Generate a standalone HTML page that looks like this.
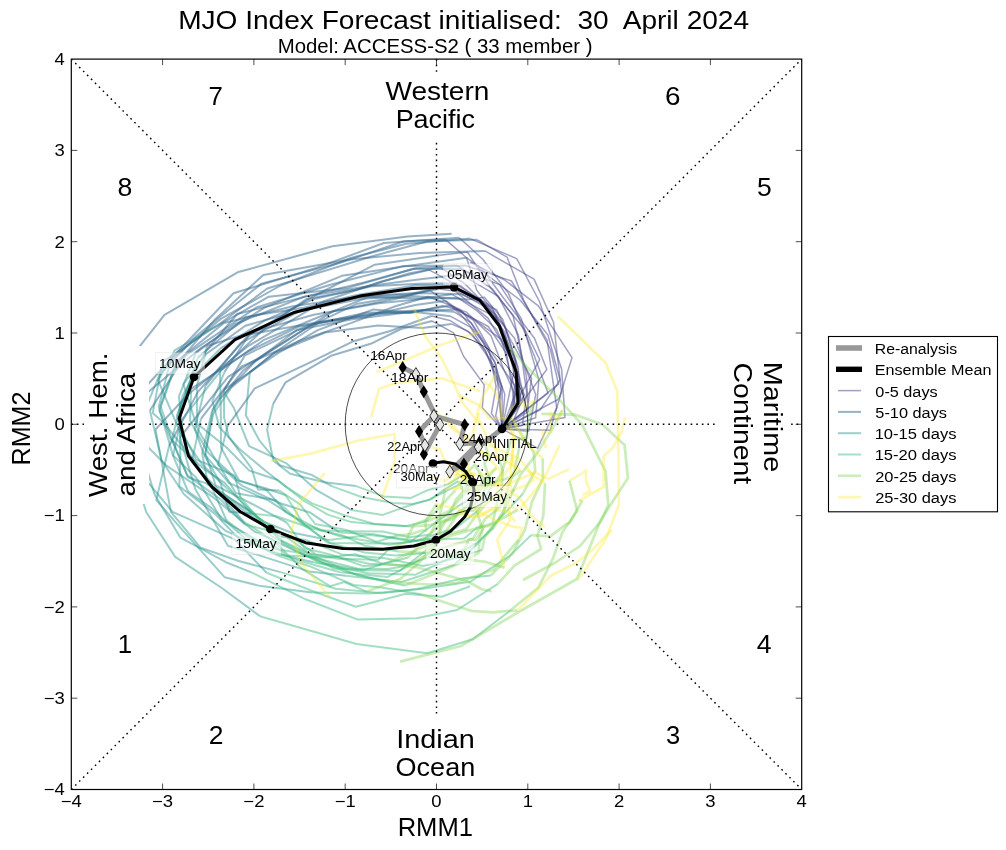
<!DOCTYPE html><html><head><meta charset="utf-8"><style>html,body{margin:0;padding:0;background:#fff;overflow:hidden}svg{display:block;will-change:transform}text{white-space:pre}</style></head><body><svg width="1006" height="850" viewBox="0 0 1006 850" font-family="Liberation Sans, sans-serif" style="white-space:pre">
<rect width="1006" height="850" fill="#fff"/>
<defs><clipPath id="ax"><rect x="71.30000000000001" y="59.10000000000002" width="730.4000000000001" height="730.4"/></clipPath></defs>
<g clip-path="url(#ax)">
<g fill="none" stroke="#414487" stroke-opacity="0.5" stroke-width="1.5" stroke-linejoin="round"><polyline points="502.0,429.0 559.0,399.0 572.0,357.6 538.3,305.9 504.7,280.0 470.0,262.0"/><polyline points="502.0,429.0 540.0,410.0 560.0,380.0 548.0,335.0 520.0,300.0 478.0,268.0"/><polyline points="502.0,428.9 495.7,416.2 500.7,389.6 485.7,351.8 470.4,327.1 450.7,316.3"/><polyline points="502.0,428.9 504.8,394.2 494.9,367.0 472.3,334.4 449.8,320.4 431.4,316.0"/><polyline points="502.0,428.9 520.7,397.1 514.5,360.3 495.7,315.0 465.3,284.2 440.4,267.4"/><polyline points="502.0,428.9 514.0,409.6 516.2,383.4 505.0,332.6 485.8,304.6 459.9,285.3"/><polyline points="502.0,428.9 515.1,394.5 503.6,369.3 490.9,335.6 466.4,312.0 443.1,305.8"/><polyline points="502.0,428.9 502.6,432.3 514.3,402.1 506.6,353.5 488.3,326.5 456.4,309.5"/><polyline points="502.0,428.9 550.1,430.3 561.5,391.7 553.5,322.2 534.0,279.1 484.9,250.9"/><polyline points="502.0,428.9 527.3,409.3 531.6,378.4 509.6,338.0 496.7,309.8 461.2,294.2"/><polyline points="502.0,428.9 520.3,400.1 515.3,365.2 487.8,317.9 455.1,291.1 438.6,289.0"/><polyline points="502.0,428.9 500.1,403.4 501.1,386.0 485.1,349.8 467.8,331.1 451.3,323.9"/><polyline points="502.0,428.9 565.0,417.5 561.6,369.1 539.5,301.5 516.7,258.6 470.2,238.6"/><polyline points="502.0,428.9 510.2,416.8 514.7,385.5 491.4,352.1 473.5,320.3 445.8,300.8"/><polyline points="502.0,428.9 537.6,448.2 556.7,407.9 547.1,340.1 511.5,281.0 465.7,265.5"/><polyline points="502.0,428.9 558.5,384.2 550.3,349.0 523.8,300.6 507.1,257.2 477.3,239.8"/><polyline points="502.0,428.9 548.1,393.2 534.1,355.3 508.4,293.1 482.7,259.2 459.3,237.7"/><polyline points="502.0,428.9 491.4,413.4 496.1,386.5 488.6,348.2 471.2,322.9 454.4,311.8"/><polyline points="502.0,428.9 496.0,365.0 483.1,342.0 460.9,314.6 445.1,300.9 429.8,290.3"/><polyline points="502.0,428.9 515.8,362.5 504.7,325.9 476.7,290.1 466.5,257.8 445.7,239.6"/><polyline points="502.0,428.9 523.7,396.1 515.3,358.9 491.5,306.3 461.4,287.6 429.1,269.9"/><polyline points="502.0,428.9 528.3,411.3 526.4,376.1 513.0,315.5 492.3,288.8 457.0,265.5"/><polyline points="502.0,428.9 528.7,431.2 535.7,394.5 514.4,338.0 489.2,309.2 447.0,285.7"/><polyline points="502.0,428.9 520.0,399.1 518.3,368.1 502.7,319.3 484.4,297.2 468.5,299.5"/><polyline points="502.0,428.9 502.2,388.1 494.7,361.5 471.7,324.0 460.8,309.8 428.6,296.5"/><polyline points="502.0,428.9 511.9,424.1 524.3,394.7 507.6,352.0 495.5,317.2 451.6,294.3"/><polyline points="502.0,428.9 522.3,425.5 526.7,392.4 518.4,335.2 498.3,296.4 461.2,274.6"/><polyline points="502.0,428.9 511.2,418.7 515.5,390.4 501.3,339.4 474.1,319.4 450.8,305.6"/><polyline points="502.0,428.9 518.5,406.2 519.4,377.6 496.6,329.5 477.5,311.2 458.0,297.9"/><polyline points="502.0,428.9 546.8,369.5 534.5,338.3 502.0,296.0 482.4,269.1 466.5,257.7"/><polyline points="502.0,428.9 535.6,417.7 538.9,379.9 521.3,318.6 499.5,284.6 460.4,269.2"/><polyline points="502.0,428.9 539.7,359.6 525.3,330.5 491.7,289.3 467.4,252.0 439.4,255.3"/><polyline points="502.0,428.9 482.3,407.7 484.2,384.9 463.4,356.0 453.5,332.9 432.1,321.0"/></g>
<g fill="none" stroke="#31688e" stroke-opacity="0.5" stroke-width="2.0" stroke-linejoin="round"><polyline points="457.3,283.2 418.3,283.7 371.7,286.3 313.6,299.1 264.9,320.3 220.4,348.5"/><polyline points="451.6,233.7 407.6,236.4 332.4,246.3 237.6,272.3 164.5,314.8 129.6,359.2"/><polyline points="450.7,316.3 413.1,311.8 352.4,319.2 296.7,330.0 243.0,370.7 224.9,393.5"/><polyline points="431.4,316.0 390.2,331.0 353.6,341.2 308.1,363.4 254.8,388.3 227.6,426.0"/><polyline points="440.4,267.4 408.8,273.5 355.9,289.7 306.1,299.3 265.5,327.5 224.1,366.6"/><polyline points="459.9,285.3 416.5,285.2 355.8,295.3 301.9,308.1 245.7,316.9 198.0,357.5"/><polyline points="443.1,305.8 410.9,312.9 366.9,312.5 307.3,325.6 245.0,355.3 212.1,410.6"/><polyline points="456.4,309.5 420.8,310.8 365.6,315.3 298.8,326.7 247.9,351.5 191.1,388.8"/><polyline points="484.9,250.9 419.3,252.9 349.6,259.5 263.3,274.9 214.1,320.3 175.6,365.4"/><polyline points="461.2,294.2 417.8,293.0 366.2,295.8 307.3,308.4 245.4,325.7 205.8,354.2"/><polyline points="438.6,289.0 396.2,297.3 356.2,304.1 306.9,327.6 255.5,360.9 220.3,398.6"/><polyline points="451.3,323.9 422.7,327.9 377.9,325.6 325.0,332.5 274.0,353.3 249.8,372.2"/><polyline points="470.2,238.6 406.2,243.7 350.6,258.0 280.6,285.5 220.8,318.9 170.9,359.5"/><polyline points="445.8,300.8 415.6,305.1 367.4,315.9 319.1,322.5 273.2,353.5 231.8,387.0"/><polyline points="465.7,265.5 415.8,268.3 347.7,287.9 268.8,296.7 210.3,329.8 162.4,362.0"/><polyline points="477.3,239.8 427.8,241.3 373.2,256.0 307.0,276.4 267.3,288.5 219.1,324.2"/><polyline points="459.3,237.7 383.9,243.0 316.8,267.8 233.5,293.3 173.3,356.5 140.5,392.5"/><polyline points="454.4,311.8 423.8,310.0 380.0,312.5 321.8,321.5 249.6,334.3 224.7,371.7"/><polyline points="429.8,290.3 394.1,299.3 332.9,311.3 274.8,347.9 228.1,376.8 180.0,437.3"/><polyline points="445.7,239.6 403.9,241.3 340.1,262.8 261.5,283.6 196.5,335.8 159.6,374.7"/><polyline points="429.1,269.9 382.4,281.2 323.9,301.2 248.5,345.8 188.4,394.3 155.5,429.4"/><polyline points="457.0,265.5 402.6,266.1 330.4,284.7 256.2,307.5 185.8,355.1 149.9,410.5"/><polyline points="447.0,285.7 409.5,294.2 353.7,297.4 292.9,306.2 223.9,323.0 176.0,362.0"/><polyline points="468.5,299.5 410.8,296.1 361.5,298.7 299.4,311.1 240.7,343.2 205.5,385.7"/><polyline points="428.6,296.5 395.4,306.3 351.5,322.9 298.4,341.3 241.2,366.7 200.9,418.9"/><polyline points="451.6,294.3 416.7,299.6 378.8,303.2 313.7,314.7 249.7,332.8 207.0,345.9"/><polyline points="461.2,274.6 418.3,279.4 372.4,285.5 304.9,296.4 234.0,324.5 195.9,352.9"/><polyline points="450.8,305.6 410.2,312.5 372.7,309.6 317.8,330.1 279.2,352.4 224.0,389.6"/><polyline points="458.0,297.9 421.8,298.6 368.1,297.1 310.9,320.2 263.5,340.2 220.0,370.9"/><polyline points="466.5,257.7 402.1,266.8 341.9,275.8 264.0,307.9 200.9,348.0 138.6,399.9"/><polyline points="460.4,269.2 413.6,268.7 364.1,282.4 307.4,296.1 237.2,314.0 206.1,350.6"/><polyline points="439.4,255.3 374.8,264.7 311.3,297.5 247.0,336.8 198.1,391.6 169.1,445.8"/><polyline points="432.1,321.0 400.9,329.0 370.7,343.8 331.0,355.8 285.6,382.3 273.1,404.0"/></g>
<g fill="none" stroke="#21918c" stroke-opacity="0.45" stroke-width="2.0" stroke-linejoin="round"><polyline points="220.4,348.5 191.7,377.9 176.9,415.3 186.5,449.3 210.9,485.3 226.5,520.3"/><polyline points="129.6,359.2 122.1,417.8 131.3,462.3 172.5,511.9 234.7,539.4 266.6,572.8"/><polyline points="224.9,393.5 233.7,407.7 249.1,446.1 286.6,463.4 316.5,490.2 351.5,510.1"/><polyline points="227.6,426.0 218.0,464.3 242.0,485.7 277.1,502.2 310.6,512.8 339.4,532.4"/><polyline points="224.1,366.6 180.7,421.1 173.2,455.4 196.3,477.7 221.6,519.4 257.9,540.8"/><polyline points="198.0,357.5 179.5,411.1 180.4,456.2 179.3,486.3 215.0,513.9 239.9,539.7"/><polyline points="212.1,410.6 202.2,453.7 208.0,484.2 245.4,511.6 279.6,536.3 305.8,539.9"/><polyline points="191.1,388.8 190.1,420.7 208.4,453.0 237.7,480.1 266.2,489.7 286.4,512.7"/><polyline points="175.6,365.4 159.4,410.6 170.6,438.9 204.1,469.1 224.4,482.7 250.9,512.7"/><polyline points="205.8,354.2 183.4,384.0 197.9,429.6 214.7,458.3 236.0,493.2 276.4,500.3"/><polyline points="220.3,398.6 212.5,412.2 205.4,453.3 215.7,485.5 256.3,506.1 286.8,522.6"/><polyline points="249.8,372.2 245.8,415.2 259.7,440.9 280.0,465.3 311.1,474.7 332.3,486.4"/><polyline points="170.9,359.5 158.8,406.6 173.2,456.1 188.1,491.5 211.5,508.1 247.5,540.8"/><polyline points="231.8,387.0 213.2,414.3 204.7,456.0 220.4,482.8 229.3,511.7 255.7,513.9"/><polyline points="162.4,362.0 152.7,413.0 163.4,422.6 188.6,453.7 210.5,484.9 244.1,521.9"/><polyline points="219.1,324.2 174.6,350.4 158.1,380.4 180.1,432.2 202.4,464.7 225.5,487.0"/><polyline points="140.5,392.5 135.7,434.8 166.1,465.3 214.0,497.9 254.0,531.2 304.4,555.2"/><polyline points="224.7,371.7 212.4,400.9 219.6,427.4 239.2,448.8 266.2,471.3 286.5,487.2"/><polyline points="180.0,437.3 195.2,488.9 227.9,545.8 260.8,555.9 309.0,571.4 345.8,575.7"/><polyline points="159.6,374.7 135.8,431.9 154.4,493.9 180.4,537.7 226.0,562.2 251.3,572.4"/><polyline points="155.5,429.4 164.0,474.5 170.9,511.8 200.7,547.8 238.7,561.0 280.5,572.1"/><polyline points="149.9,410.5 161.6,460.5 183.8,494.0 225.2,530.6 271.1,552.2 313.4,562.3"/><polyline points="176.0,362.0 160.5,405.7 172.4,441.0 187.9,477.3 206.3,483.4 252.7,512.5"/><polyline points="205.5,385.7 194.8,429.1 203.5,453.4 229.2,483.0 268.6,500.6 305.3,524.4"/><polyline points="200.9,418.9 191.8,462.0 219.9,491.3 264.7,522.2 290.4,532.2 328.9,540.1"/><polyline points="207.0,345.9 196.9,386.4 197.0,423.5 226.1,447.0 249.3,470.6 277.7,480.0"/><polyline points="195.9,352.9 178.9,396.7 182.6,432.2 196.2,459.6 234.6,475.7 240.4,496.9"/><polyline points="224.0,389.6 224.1,417.4 228.7,436.6 251.7,468.6 257.9,489.4 279.4,490.6"/><polyline points="220.0,370.9 220.8,410.2 221.0,447.4 239.3,480.8 264.0,487.8 285.7,495.2"/><polyline points="138.6,399.9 131.4,464.9 146.3,512.3 175.2,556.9 222.5,588.5 259.9,616.2"/><polyline points="206.1,350.6 182.6,396.0 172.0,439.7 187.4,475.4 219.8,498.9 244.6,524.3"/><polyline points="169.1,445.8 156.3,500.1 181.4,528.8 224.6,577.2 260.9,586.1 312.3,592.6"/><polyline points="273.1,404.0 267.1,429.8 273.4,460.7 290.2,473.7 324.3,482.2 356.1,486.1"/></g>
<g fill="none" stroke="#35b779" stroke-opacity="0.45" stroke-width="2.0" stroke-linejoin="round"><polyline points="226.5,520.3 261.4,547.5 297.9,560.2 340.1,572.2 387.7,576.9 420.7,559.7"/><polyline points="266.6,572.8 315.6,592.2 356.0,606.7 405.8,593.7 441.7,596.7 470.1,586.2"/><polyline points="351.5,510.1 382.8,514.9 407.0,506.2 430.7,499.4 442.9,490.6 458.1,481.1"/><polyline points="339.4,532.4 374.0,534.2 410.9,541.5 435.8,522.5 458.1,506.1 470.5,498.8"/><polyline points="257.9,540.8 275.1,548.9 299.1,552.8 344.3,571.3 380.4,580.5 405.0,585.6"/><polyline points="239.9,539.7 269.8,542.5 286.7,555.4 327.4,557.5 355.4,554.3 381.4,563.3"/><polyline points="305.8,539.9 341.8,554.4 383.6,558.1 423.1,566.0 451.9,559.1 482.0,550.0"/><polyline points="286.4,512.7 321.4,530.6 352.6,531.3 382.5,531.5 409.7,537.3 430.5,534.6"/><polyline points="250.9,512.7 277.5,530.5 309.0,553.4 337.6,558.7 378.3,559.8 387.0,550.9"/><polyline points="276.4,500.3 301.2,523.2 330.3,543.1 373.9,543.4 402.8,543.0 434.8,538.1"/><polyline points="286.8,522.6 304.7,548.2 332.2,555.0 363.3,566.1 378.7,565.2 408.4,557.5"/><polyline points="332.3,486.4 361.5,497.0 392.9,503.1 412.8,503.9 428.7,499.9 463.6,482.3"/><polyline points="247.5,540.8 279.8,556.4 309.6,566.2 353.5,585.0 381.5,587.4 420.9,594.2"/><polyline points="255.7,513.9 276.5,516.2 311.3,528.3 343.5,535.8 364.5,545.7 398.5,551.4"/><polyline points="244.1,521.9 274.0,541.0 302.4,569.1 330.0,586.2 344.4,582.0 366.2,591.7"/><polyline points="225.5,487.0 252.2,511.4 281.1,540.3 318.5,558.0 356.3,574.9 390.7,582.1"/><polyline points="304.4,555.2 357.2,568.5 388.0,569.1 402.4,566.4 429.5,556.9 448.2,556.9"/><polyline points="286.5,487.2 312.1,503.4 344.9,515.5 373.8,523.7 405.5,526.1 428.7,520.8"/><polyline points="345.8,575.7 401.4,582.0 454.0,565.0 476.4,545.1 499.8,518.3 522.5,494.3"/><polyline points="251.3,572.4 305.7,599.3 357.9,619.6 416.4,618.3 457.0,610.0 497.5,584.2"/><polyline points="280.5,572.1 335.8,588.7 382.0,593.3 417.0,588.9 463.5,578.3 490.7,575.5"/><polyline points="313.4,562.3 368.4,573.3 415.6,574.7 452.3,557.0 476.3,543.3 493.4,528.3"/><polyline points="252.7,512.5 283.5,543.9 318.6,562.4 362.6,570.2 399.8,570.8 424.6,551.5"/><polyline points="305.3,524.4 339.2,536.0 389.5,544.8 424.9,539.5 464.2,538.5 477.6,527.2"/><polyline points="328.9,540.1 369.4,535.0 416.7,540.5 456.4,527.8 477.9,510.6 489.9,489.4"/><polyline points="277.7,480.0 303.3,500.4 327.7,514.6 351.6,522.1 377.9,524.6 411.6,526.4"/><polyline points="240.4,496.9 271.9,536.5 300.7,551.2 333.6,568.4 363.9,570.1 391.7,560.9"/><polyline points="279.4,490.6 300.1,504.4 315.2,524.0 346.5,530.0 376.8,541.7 396.5,535.7"/><polyline points="285.7,495.2 302.7,522.8 326.9,542.3 364.9,552.6 395.4,555.4 430.7,552.5"/><polyline points="259.9,616.2 315.9,632.3 356.6,644.0 427.2,653.2 472.7,639.3 511.1,609.8"/><polyline points="244.6,524.3 289.8,535.9 316.2,554.6 337.7,557.1 369.2,563.8 407.6,565.6"/><polyline points="312.3,592.6 370.3,593.6 422.9,588.7 470.4,581.7 508.7,556.7 531.2,535.1"/><polyline points="356.1,486.1 383.8,496.4 410.5,498.1 427.8,490.2 448.3,484.1 467.7,472.0"/></g>
<g fill="none" stroke="#7ad151" stroke-opacity="0.4" stroke-width="2.7" stroke-linejoin="round"><polyline points="504.7,342.1 525.4,365.4 553.9,393.9 582.3,424.9 605.6,471.5 608.2,505.0 601.3,520.7 580.0,546.0 554.7,563.0 523.0,580.0"/><polyline points="541.4,413.8 574.4,414.6 602.4,424.5 624.6,445.1 627.9,478.0 600.7,520.0 577.0,579.0 522.0,610.0 461.0,646.0 400.0,661.6"/><polyline points="458.1,481.1 463.4,490.9 467.5,491.5 477.0,486.4 474.5,489.7 473.7,493.2"/><polyline points="470.5,498.8 477.9,492.3 489.4,479.0 484.4,463.7 488.4,456.7 485.4,444.8"/><polyline points="405.0,585.6 437.0,572.8 459.2,563.4 478.6,553.1 479.7,538.1 484.1,525.8"/><polyline points="381.4,563.3 416.7,567.2 435.4,572.2 466.4,580.7 481.7,589.2 491.8,591.3"/><polyline points="482.0,550.0 484.7,537.4 503.6,512.7 508.5,486.0 514.5,470.4 519.2,447.8"/><polyline points="430.5,534.6 437.5,518.9 449.8,514.0 455.7,499.8 468.4,485.4 471.1,472.4"/><polyline points="387.0,550.9 405.5,541.9 413.5,525.1 428.2,519.1 442.8,503.8 455.2,490.4"/><polyline points="434.8,538.1 446.1,520.6 452.4,519.1 472.2,501.1 479.1,486.5 496.3,467.9"/><polyline points="408.4,557.5 428.7,534.7 450.7,516.1 468.4,511.4 479.0,499.0 489.5,482.4"/><polyline points="463.6,482.3 467.1,481.5 466.7,485.1 465.7,478.0 465.9,481.7 474.0,476.2"/><polyline points="420.9,594.2 450.3,604.2 472.0,611.0 493.6,612.3 501.8,611.4 517.4,610.5"/><polyline points="398.5,551.4 431.7,553.4 459.9,556.7 464.8,559.2 485.2,561.8 504.4,567.7"/><polyline points="366.2,591.7 400.3,579.1 419.7,562.1 434.8,545.0 450.3,525.3 458.1,513.5"/><polyline points="390.7,582.1 429.0,584.5 456.7,583.0 493.4,569.8 500.8,561.0 518.4,539.8"/><polyline points="448.2,556.9 464.6,549.0 469.0,539.0 475.7,540.1 482.4,530.0 476.6,510.2"/><polyline points="428.7,520.8 449.1,511.0 455.1,504.2 467.2,490.7 467.9,489.8 477.0,479.9"/><polyline points="522.5,494.3 535.2,470.7 533.6,452.2 522.9,436.2 515.9,426.2 501.6,418.1"/><polyline points="497.5,584.2 514.4,565.6 541.1,549.0 537.4,536.2 543.3,515.6 545.0,483.2"/><polyline points="490.7,575.5 512.2,553.9 524.9,529.8 532.0,501.6 542.9,478.7 542.7,458.6"/><polyline points="493.4,528.3 505.1,508.1 520.7,474.3 535.5,455.4 552.8,428.1 562.4,410.1"/><polyline points="424.6,551.5 442.1,535.7 466.1,529.4 474.8,517.3 490.6,498.3 504.1,495.3"/><polyline points="477.6,527.2 492.5,523.6 497.8,499.7 501.8,487.5 502.7,470.1 498.4,458.2"/><polyline points="489.9,489.4 501.9,473.1 510.9,439.9 526.6,438.2 528.8,414.1 534.0,402.8"/><polyline points="411.6,526.4 429.5,525.2 449.3,519.3 459.9,510.8 473.4,510.6 482.4,501.6"/><polyline points="391.7,560.9 420.2,548.3 449.8,535.9 480.0,527.4 488.4,526.0 517.8,509.8"/><polyline points="396.5,535.7 410.8,534.2 422.4,530.2 426.1,530.5 425.4,521.0 436.5,504.1"/><polyline points="430.7,552.5 440.4,539.3 440.1,520.8 439.7,514.9 444.0,496.8 444.8,488.9"/><polyline points="511.1,609.8 538.5,587.5 553.0,558.4 562.5,531.9 577.2,510.8 569.5,480.6"/><polyline points="407.6,565.6 435.2,550.2 472.7,539.0 485.4,518.8 497.0,509.7 514.4,489.1"/><polyline points="531.2,535.1 550.4,536.4 565.4,524.8 569.9,522.4 581.9,501.3 579.4,500.5"/><polyline points="467.7,472.0 474.9,464.7 487.2,485.2 498.3,481.0 512.0,477.0 520.8,470.5"/></g>
<g fill="none" stroke="#fde725" stroke-opacity="0.35" stroke-width="2.7" stroke-linejoin="round"><polyline points="557.8,316.2 605.6,362.8 617.3,391.3 618.6,461.2 618.8,505.2 605.5,539.8 578.0,580.0"/><polyline points="414.0,308.5 425.6,337.0 441.2,357.6 451.5,378.3 461.9,401.6 480.0,425.0"/><polyline points="376.5,371.9 405.0,360.2 441.2,344.7 480.0,331.8"/><polyline points="371.3,417.2 379.0,388.7 394.6,383.5 415.3,380.9 441.2,378.3 480.0,391.3"/><polyline points="270.4,461.2 311.8,453.4 358.3,440.5 394.6,434.0 394.6,461.2 381.6,500.0"/><polyline points="324.7,472.9 298.8,504.0 291.0,532.5 301.4,563.5 329.9,597.2"/><polyline points="559.5,445.0 546.4,473.9 536.5,488.7 520.0,508.5"/><polyline points="471.1,472.4 464.4,475.6 452.6,474.7 444.8,480.9 430.3,476.1 428.0,479.3"/><polyline points="455.2,490.4 468.0,469.6 471.2,441.0 477.9,411.7 482.8,396.7 496.1,373.9"/><polyline points="496.3,467.9 485.6,474.8 473.4,474.5 471.9,472.9 460.1,470.7 447.8,471.6"/><polyline points="489.5,482.4 498.8,484.4 507.3,489.7 520.5,499.2 532.7,517.3 544.8,526.9"/><polyline points="474.0,476.2 464.1,475.3 472.1,478.9 474.0,473.5 473.2,476.1 473.0,473.6"/><polyline points="517.4,610.5 540.3,586.6 550.8,575.8 575.9,563.0 591.2,551.0 611.9,530.0"/><polyline points="504.4,567.7 497.2,539.2 509.5,521.3 509.4,498.6 510.2,479.2 512.0,457.0"/><polyline points="458.1,513.5 468.8,516.3 482.1,515.8 491.3,509.4 508.2,511.7 515.5,522.2"/><polyline points="518.4,539.8 522.3,527.9 512.1,526.6 496.8,520.6 480.2,512.4 473.5,505.9"/><polyline points="476.6,510.2 495.6,496.6 498.9,480.4 510.7,466.3 515.0,438.1 509.7,424.1"/><polyline points="477.0,479.9 477.7,481.6 463.4,476.4 459.8,465.9 456.0,478.2 447.4,484.4"/><polyline points="501.6,418.1 500.4,400.3 497.1,398.0 497.1,395.1 490.2,386.0 483.6,382.2"/><polyline points="545.0,483.2 534.0,476.1 523.8,464.0 518.0,457.9 490.9,446.1 485.2,437.3"/><polyline points="542.7,458.6 524.5,441.4 512.2,418.1 489.7,418.3 478.9,405.2 459.6,395.3"/><polyline points="562.4,410.1 558.3,419.1 549.9,412.4 551.3,432.4 542.1,431.3 546.0,448.4"/><polyline points="504.1,495.3 510.9,476.0 516.5,470.7 511.9,456.1 513.5,436.3 505.7,424.9"/><polyline points="498.4,458.2 494.2,445.1 492.8,444.7 486.7,436.6 478.4,418.9 478.4,412.4"/><polyline points="534.0,402.8 534.1,401.0 524.0,407.0 522.8,401.7 513.2,406.7 511.0,412.3"/><polyline points="482.4,501.6 472.9,486.3 459.9,475.8 443.2,457.8 440.2,449.4 423.6,445.4"/><polyline points="517.8,509.8 501.5,502.8 499.8,469.5 482.0,451.9 457.4,430.9 445.3,415.6"/><polyline points="436.5,504.1 446.0,506.4 456.8,508.1 473.3,517.6 481.4,514.2 498.2,505.5"/><polyline points="444.8,488.9 472.0,488.1 507.2,484.4 535.3,472.5 548.2,478.9 569.1,469.2"/><polyline points="569.5,480.6 582.2,473.4 586.0,470.0 586.0,480.9 590.1,491.8 582.3,494.7"/><polyline points="514.4,489.1 521.7,487.2 533.6,480.3 531.4,473.3 527.7,471.0 528.8,471.2"/><polyline points="579.4,500.5 603.7,486.9 603.6,456.0 612.5,448.2 621.7,431.8 625.2,417.4"/><polyline points="520.8,470.5 500.7,458.2 476.7,450.0 469.3,439.7 453.2,429.1 435.2,411.0"/></g>
<line x1="71.30000000000001" y1="424.3" x2="801.7" y2="424.3" stroke="#000" stroke-width="1.45" stroke-dasharray="1.6 3.98" fill="none"/>
<line x1="436.5" y1="59.10000000000002" x2="436.5" y2="789.5" stroke="#000" stroke-width="1.45" stroke-dasharray="1.6 3.98" fill="none"/>
<line x1="71.30000000000001" y1="789.5" x2="801.7" y2="59.10000000000002" stroke="#000" stroke-width="1.45" stroke-dasharray="1.6 3.98" fill="none"/>
<line x1="71.30000000000001" y1="59.10000000000002" x2="801.7" y2="789.5" stroke="#000" stroke-width="1.45" stroke-dasharray="1.6 3.98" fill="none"/>
<circle cx="436.5" cy="424.3" r="91.3" fill="none" stroke="#000" stroke-width="0.7"/>
<rect x="381" y="74" width="111" height="65" fill="#fff"/>
<rect x="391" y="717" width="90" height="72" fill="#fff"/>
<rect x="84" y="346" width="65" height="158" fill="#fff"/>
<rect x="718" y="357" width="70" height="136" fill="#fff"/>
</g>
<text transform="translate(385.52,100.00) scale(1.0691,1)" font-size="26.23" fill="#000" >Western</text>
<text transform="translate(395.64,127.50) scale(1.0282,1)" font-size="26.23" fill="#000" >Pacific</text>
<text transform="translate(396.20,747.90) scale(1.1021,1)" font-size="26.23" fill="#000" >Indian</text>
<text transform="translate(395.55,775.60) scale(1.0318,1)" font-size="26.23" fill="#000" >Ocean</text>
<text transform="translate(107.10,497.08) rotate(-90) scale(1.0599,1)" font-size="26.23" fill="#000" >West. Hem.</text>
<text transform="translate(135.00,496.51) rotate(-90) scale(1.0624,1)" font-size="26.23" fill="#000" >and Africa</text>
<text transform="translate(763.60,361.69) rotate(90) scale(1.0995,1)" font-size="26.23" fill="#000" >Maritime</text>
<text transform="translate(734.40,362.58) rotate(90) scale(1.0840,1)" font-size="26.23" fill="#000" >Continent</text>
<text transform="translate(208.61,104.75) scale(1.0028,1)" font-size="25.80" fill="#000" >7</text>
<text transform="translate(665.11,104.75) scale(1.0787,1)" font-size="25.80" fill="#000" >6</text>
<text transform="translate(117.59,196.05) scale(1.0310,1)" font-size="25.80" fill="#000" >8</text>
<text transform="translate(756.92,196.05) scale(1.0285,1)" font-size="25.80" fill="#000" >5</text>
<text transform="translate(117.63,652.55) scale(1.0007,1)" font-size="25.80" fill="#000" >1</text>
<text transform="translate(756.74,652.55) scale(1.0367,1)" font-size="25.80" fill="#000" >4</text>
<text transform="translate(208.76,743.85) scale(1.0256,1)" font-size="25.80" fill="#000" >2</text>
<text transform="translate(665.93,743.85) scale(0.9897,1)" font-size="25.80" fill="#000" >3</text>
<polyline points="402.7,367.4 415.9,374.1 423.8,391.8 440,424.6 423.9,454.2 424.9,445.2 419.1,431.4 433.9,415.9 464.7,424.7 459.8,443.9 479.2,442.6 449.8,471.7 463.9,463.9 478.3,447.1 502.0,428.9" fill="none" stroke="#999" stroke-width="5" stroke-linejoin="round"/>
<path d="M402.7,360.9L406.8,367.4L402.7,373.9L398.59999999999997,367.4Z" fill="#000"/>
<path d="M415.9,367.6L420.0,374.1L415.9,380.6L411.79999999999995,374.1Z" fill="#e6e6e6" stroke="#000" stroke-width="0.8"/>
<path d="M423.8,385.3L427.90000000000003,391.8L423.8,398.3L419.7,391.8Z" fill="#000"/>
<path d="M440,418.1L444.1,424.6L440,431.1L435.9,424.6Z" fill="#e6e6e6" stroke="#000" stroke-width="0.8"/>
<path d="M423.9,447.7L428.0,454.2L423.9,460.7L419.79999999999995,454.2Z" fill="#000"/>
<path d="M424.9,438.7L429.0,445.2L424.9,451.7L420.79999999999995,445.2Z" fill="#e6e6e6" stroke="#000" stroke-width="0.8"/>
<path d="M419.1,424.9L423.20000000000005,431.4L419.1,437.9L415.0,431.4Z" fill="#000"/>
<path d="M433.9,409.4L438.0,415.9L433.9,422.4L429.79999999999995,415.9Z" fill="#e6e6e6" stroke="#000" stroke-width="0.8"/>
<path d="M464.7,418.2L468.8,424.7L464.7,431.2L460.59999999999997,424.7Z" fill="#000"/>
<path d="M459.8,437.4L463.90000000000003,443.9L459.8,450.4L455.7,443.9Z" fill="#e6e6e6" stroke="#000" stroke-width="0.8"/>
<path d="M479.2,436.1L483.3,442.6L479.2,449.1L475.09999999999997,442.6Z" fill="#000"/>
<path d="M449.8,465.2L453.90000000000003,471.7L449.8,478.2L445.7,471.7Z" fill="#e6e6e6" stroke="#000" stroke-width="0.8"/>
<path d="M463.9,457.4L468.0,463.9L463.9,470.4L459.79999999999995,463.9Z" fill="#000"/>
<path d="M478.3,440.6L482.40000000000003,447.1L478.3,453.6L474.2,447.1Z" fill="#e6e6e6" stroke="#000" stroke-width="0.8"/>
<polyline points="502.0,428.9 518,403.2 516.2,371.9 499.4,326 479.9,300.3 454,287.1 412,288.6 359.7,296.1 294,312.5 235,339.7 194,377 179.2,418.3 188.4,455.8 212,487 240,511.5 270.4,529 305.5,542.7 343,548.6 382.6,549.3 413.8,546 435.9,540 450.6,531.2 464.7,517 470.6,506.5 474,491 472.9,482.4 465.9,471.8 455.3,464 443.5,461.8 438,462.5 432.9,463.5" fill="none" stroke="#000" stroke-width="3" stroke-linejoin="round"/>
<circle cx="502.0" cy="428.9" r="4.3" fill="#000"/>
<circle cx="454" cy="287.1" r="4.3" fill="#000"/>
<circle cx="194" cy="377" r="4.3" fill="#000"/>
<circle cx="270.4" cy="529" r="4.3" fill="#000"/>
<circle cx="435.9" cy="540" r="4.3" fill="#000"/>
<circle cx="472.9" cy="482.4" r="4.3" fill="#000"/>
<circle cx="432.9" cy="463.5" r="4.3" fill="#000"/>
<text transform="translate(370.20,359.50) scale(1.0082,1)" font-size="13.62" fill="#000" >16Apr</text>
<text transform="translate(391.08,381.90) scale(1.0282,1)" font-size="13.62" fill="#000" >18Apr</text>
<text transform="translate(392.91,472.50) scale(1.0107,1)" font-size="13.62" fill="#000" >20Apr</text>
<text transform="translate(387.16,450.60) scale(0.9430,1)" font-size="13.62" fill="#000" >22Apr</text>
<text transform="translate(461.74,442.80) scale(0.9627,1)" font-size="13.62" fill="#000" >24Apr</text>
<text transform="translate(474.67,461.20) scale(0.9288,1)" font-size="13.62" fill="#000" >26Apr</text>
<text transform="translate(459.83,483.50) scale(0.9825,1)" font-size="13.62" fill="#000" >28Apr</text>
<text transform="translate(493.46,447.80) scale(0.9293,1)" font-size="13.62" fill="#000" >INITIAL</text>
<rect x="443.0" y="263.6" width="49.1" height="21.6" fill="#fff" fill-opacity="0.5" stroke="#000" stroke-opacity="0.06" stroke-width="1"/>
<text transform="translate(447.26,278.80) scale(0.9895,1)" font-size="13.62" fill="#000" >05May</text>
<rect x="155.4" y="352.4" width="49.5" height="21.6" fill="#fff" fill-opacity="0.5" stroke="#000" stroke-opacity="0.06" stroke-width="1"/>
<text transform="translate(159.10,367.60) scale(1.0131,1)" font-size="13.62" fill="#000" >10May</text>
<rect x="231.8" y="533.1" width="49.3" height="21.6" fill="#fff" fill-opacity="0.5" stroke="#000" stroke-opacity="0.06" stroke-width="1"/>
<text transform="translate(235.50,548.30) scale(1.0081,1)" font-size="13.62" fill="#000" >15May</text>
<rect x="425.8" y="543.1" width="49.0" height="21.6" fill="#fff" fill-opacity="0.5" stroke="#000" stroke-opacity="0.06" stroke-width="1"/>
<text transform="translate(429.93,558.30) scale(0.9903,1)" font-size="13.62" fill="#000" >20May</text>
<rect x="462.5" y="485.8" width="48.9" height="21.6" fill="#fff" fill-opacity="0.5" stroke="#000" stroke-opacity="0.06" stroke-width="1"/>
<text transform="translate(466.63,501.00) scale(0.9878,1)" font-size="13.62" fill="#000" >25May</text>
<rect x="396.2" y="466.2" width="48.0" height="21.6" fill="#fff" fill-opacity="0.5" stroke="#000" stroke-opacity="0.06" stroke-width="1"/>
<text transform="translate(400.48,481.40) scale(0.9622,1)" font-size="13.62" fill="#000" >30May</text>
<rect x="71.30000000000001" y="59.10000000000002" width="730.4000000000001" height="730.4" fill="none" stroke="#000" stroke-width="1.2"/>
<path d="M162.60,789.5v-6M162.60,59.10000000000002v6M71.30000000000001,698.20h6M801.7,698.20h-6M253.90,789.5v-6M253.90,59.10000000000002v6M71.30000000000001,606.90h6M801.7,606.90h-6M345.20,789.5v-6M345.20,59.10000000000002v6M71.30000000000001,515.60h6M801.7,515.60h-6M436.50,789.5v-6M436.50,59.10000000000002v6M71.30000000000001,424.30h6M801.7,424.30h-6M527.80,789.5v-6M527.80,59.10000000000002v6M71.30000000000001,333.00h6M801.7,333.00h-6M619.10,789.5v-6M619.10,59.10000000000002v6M71.30000000000001,241.70h6M801.7,241.70h-6M710.40,789.5v-6M710.40,59.10000000000002v6M71.30000000000001,150.40h6M801.7,150.40h-6" stroke="#000" stroke-width="0.7" fill="none"/>
<text x="71.30" y="806.90" font-size="16.5" text-anchor="middle" transform="translate(71.30,0) scale(1.12,1) translate(-71.30,0)">−4</text>
<text x="64.80" y="795.40" font-size="16.5" text-anchor="end" transform="translate(64.80,0) scale(1.12,1) translate(-64.80,0)">−4</text>
<text x="162.60" y="806.90" font-size="16.5" text-anchor="middle" transform="translate(162.60,0) scale(1.12,1) translate(-162.60,0)">−3</text>
<text x="64.80" y="704.10" font-size="16.5" text-anchor="end" transform="translate(64.80,0) scale(1.12,1) translate(-64.80,0)">−3</text>
<text x="253.90" y="806.90" font-size="16.5" text-anchor="middle" transform="translate(253.90,0) scale(1.12,1) translate(-253.90,0)">−2</text>
<text x="64.80" y="612.80" font-size="16.5" text-anchor="end" transform="translate(64.80,0) scale(1.12,1) translate(-64.80,0)">−2</text>
<text x="345.20" y="806.90" font-size="16.5" text-anchor="middle" transform="translate(345.20,0) scale(1.12,1) translate(-345.20,0)">−1</text>
<text x="64.80" y="521.50" font-size="16.5" text-anchor="end" transform="translate(64.80,0) scale(1.12,1) translate(-64.80,0)">−1</text>
<text x="436.50" y="806.90" font-size="16.5" text-anchor="middle" transform="translate(436.50,0) scale(1.12,1) translate(-436.50,0)">0</text>
<text x="64.80" y="430.20" font-size="16.5" text-anchor="end" transform="translate(64.80,0) scale(1.12,1) translate(-64.80,0)">0</text>
<text x="527.80" y="806.90" font-size="16.5" text-anchor="middle" transform="translate(527.80,0) scale(1.12,1) translate(-527.80,0)">1</text>
<text x="64.80" y="338.90" font-size="16.5" text-anchor="end" transform="translate(64.80,0) scale(1.12,1) translate(-64.80,0)">1</text>
<text x="619.10" y="806.90" font-size="16.5" text-anchor="middle" transform="translate(619.10,0) scale(1.12,1) translate(-619.10,0)">2</text>
<text x="64.80" y="247.60" font-size="16.5" text-anchor="end" transform="translate(64.80,0) scale(1.12,1) translate(-64.80,0)">2</text>
<text x="710.40" y="806.90" font-size="16.5" text-anchor="middle" transform="translate(710.40,0) scale(1.12,1) translate(-710.40,0)">3</text>
<text x="64.80" y="156.30" font-size="16.5" text-anchor="end" transform="translate(64.80,0) scale(1.12,1) translate(-64.80,0)">3</text>
<text x="801.70" y="806.90" font-size="16.5" text-anchor="middle" transform="translate(801.70,0) scale(1.12,1) translate(-801.70,0)">4</text>
<text x="64.80" y="65.00" font-size="16.5" text-anchor="end" transform="translate(64.80,0) scale(1.12,1) translate(-64.80,0)">4</text>
<text transform="translate(397.65,835.80) scale(1.0031,1)" font-size="25.51" fill="#000" >RMM1</text>
<text transform="translate(30.40,465.40) rotate(-90) scale(0.9822,1)" font-size="25.51" fill="#000" >RMM2</text>
<text transform="translate(178.15,28.90) scale(1.1006,1)" font-size="25.51" fill="#000" >MJO Index Forecast initialised:  30  April 2024</text>
<text transform="translate(277.67,52.80) scale(1.0419,1)" font-size="19.57" fill="#000" >Model: ACCESS-S2 ( 33 member )</text>
<rect x="828.5" y="336.5" width="169" height="175.3" fill="#fff" stroke="#000" stroke-width="1.1"/>
<line x1="836" y1="348.00" x2="862" y2="348.00" stroke="#999" stroke-width="5.6"/>
<text transform="translate(874.74,353.90) scale(1.0802,1)" font-size="14.64" fill="#000" >Re-analysis</text>
<line x1="836" y1="369.30" x2="862" y2="369.30" stroke="#000" stroke-width="5.4"/>
<text transform="translate(874.71,375.20) scale(1.1039,1)" font-size="14.64" fill="#000" >Ensemble Mean</text>
<line x1="838" y1="390.60" x2="861" y2="390.60" stroke="#414487" stroke-opacity="0.5" stroke-width="1.5"/>
<text transform="translate(875.35,396.50) scale(1.1101,1)" font-size="14.64" fill="#000" >0-5 days</text>
<line x1="838" y1="411.90" x2="861" y2="411.90" stroke="#31688e" stroke-opacity="0.5" stroke-width="2.0"/>
<text transform="translate(875.35,417.80) scale(1.1149,1)" font-size="14.64" fill="#000" >5-10 days</text>
<line x1="838" y1="433.20" x2="861" y2="433.20" stroke="#21918c" stroke-opacity="0.45" stroke-width="2.0"/>
<text transform="translate(874.68,439.10) scale(1.1301,1)" font-size="14.64" fill="#000" >10-15 days</text>
<line x1="838" y1="454.50" x2="861" y2="454.50" stroke="#35b779" stroke-opacity="0.45" stroke-width="2.0"/>
<text transform="translate(874.68,460.40) scale(1.1301,1)" font-size="14.64" fill="#000" >15-20 days</text>
<line x1="838" y1="475.80" x2="861" y2="475.80" stroke="#7ad151" stroke-opacity="0.4" stroke-width="2.7"/>
<text transform="translate(875.18,481.70) scale(1.1232,1)" font-size="14.64" fill="#000" >20-25 days</text>
<line x1="838" y1="497.10" x2="861" y2="497.10" stroke="#fde725" stroke-opacity="0.35" stroke-width="2.7"/>
<text transform="translate(875.18,503.00) scale(1.1232,1)" font-size="14.64" fill="#000" >25-30 days</text>
</svg></body></html>
